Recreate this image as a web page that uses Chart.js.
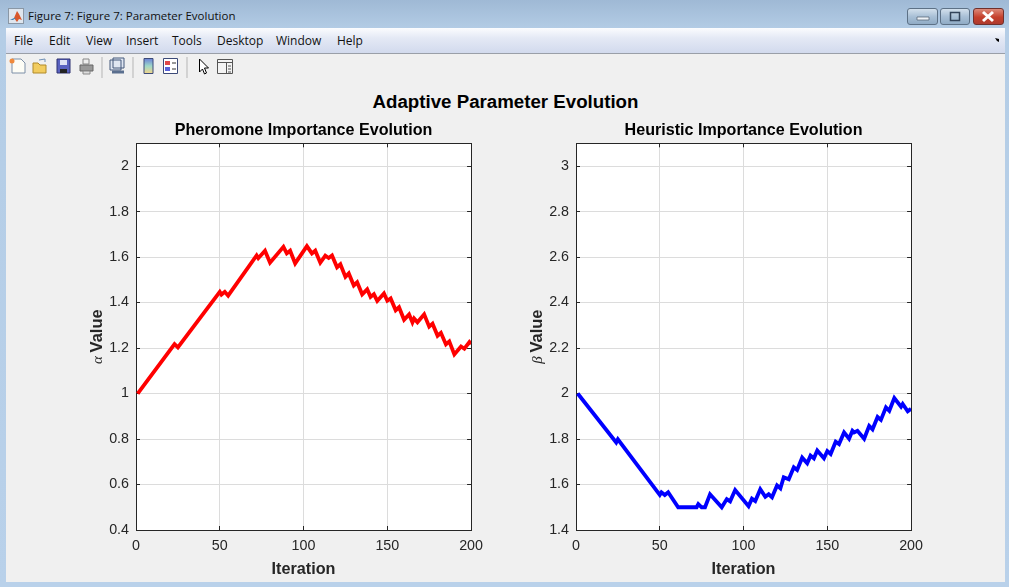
<!DOCTYPE html>
<html>
<head>
<meta charset="utf-8">
<title>Parameter Evolution</title>
<script src="https://cdn.jsdelivr.net/npm/chart.js@4"></script>
<style>
  html, body { margin: 0; padding: 0; }
  body { width: 1009px; height: 588px; position: relative; overflow: hidden; background: #fff; font-family: "Open Sans", sans-serif; }
  #frame { position: absolute; left: 0; top: 0; width: 1009px; height: 587px; background: linear-gradient(#9fb9d5, #b4cde6 30px, #b9d1ea); }
  #titlebar { position: absolute; left: 28px; top: 8px; font-size: 11.5px; line-height: 16px; color: #111; white-space: nowrap; }
  #appicon { position: absolute; left: 8px; top: 8px; width: 16px; height: 16px; background: #dfe6ee; border: 1px solid #8a97a5; box-sizing: border-box; }
  .winbtn { position: absolute; top: 8px; height: 17px; box-sizing: border-box; border: 1px solid #5d7186; border-radius: 3px; background: linear-gradient(#d3e0ec, #a9c0d6 50%, #90abc5); }
  #btnclose { background: linear-gradient(#dc8a7a, #c5402c 55%, #ad3a2e); border-color: #70302c; }
  #menubar { position: absolute; left: 6px; top: 28px; width: 999px; height: 25px; background: linear-gradient(#fbfcfe, #e4e9f5 40%, #d2daed); border-bottom: 1px solid #9a9fa8; }
  #menubar span { position: absolute; top: 5px; font-size: 12px; line-height: 16px; color: #111; }
  #figure { position: absolute; left: 6px; top: 54px; width: 999px; height: 528px; background: #f0f0f0; }
  #icons { position: absolute; left: 0; top: 0; }
  #suptitle { position: absolute; left: 0; width: 1011px; top: 91px; text-align: center; font: bold 18.7px "Liberation Sans", sans-serif; line-height: 22px; color: #000; }
  canvas { position: absolute; }
</style>
</head>
<body>
<div id="frame"></div>
<div id="appicon"></div>
<div id="titlebar">Figure 7: Figure 7: Parameter Evolution</div>
<div class="winbtn" style="left:907px;width:31px"></div>
<div class="winbtn" style="left:940px;width:30px"></div>
<div class="winbtn" id="btnclose" style="left:973px;width:31px"></div>
<div id="menubar">
  <span style="left:8px">File</span><span style="left:43px">Edit</span><span style="left:80px">View</span>
  <span style="left:120px">Insert</span><span style="left:166px">Tools</span><span style="left:211px">Desktop</span>
  <span style="left:270px">Window</span><span style="left:331px">Help</span>
</div>
<div id="figure"></div>
<svg id="icons" width="1009" height="120">
  <path d="M10 20l4-2 3-7 2 3 3 6-3-1-2 3-3-4z" fill="#d8562a"/><path d="M10 20l4-2 2 0-3 2z" fill="#3f7fb5"/>
  <path d="M12 59h9l4 4v10H12z" fill="#fdfdf6" stroke="#7d8fa8"/><circle cx="12" cy="61" r="2.5" fill="#f08a3c"/>
  <path d="M33 63h5l2 2h6v8H33z" fill="#f2cc5e" stroke="#b08a2a"/><path d="M39 60l6-1v3" fill="none" stroke="#6f8fb5"/>
  <path d="M57 59h13v14H57z" fill="#5a62c0" stroke="#2c3070"/><path d="M60 60h7v5h-7z" fill="#dfe2f4"/><path d="M60 69h7v4h-7z" fill="#222"/>
  <path d="M83 59h6v5h-6z" fill="#eee" stroke="#888"/><path d="M80 65h13v6H80z" fill="#999" stroke="#666"/><path d="M83 71h7v3h-7z" fill="#ddd" stroke="#888"/>
  <path d="M102 57v21M133 57v21M187 57v21" stroke="#b5b5b5"/>
  <path d="M110 60h11v10h-11zM113 58h11v10h-11z" fill="#dfe6f2" stroke="#44597a"/><path d="M112 72h12" stroke="#5a6f8f" stroke-width="3"/>
  <defs><linearGradient id="cb" x1="0" y1="0" x2="0" y2="1"><stop offset="0" stop-color="#6b80d8"/><stop offset=".5" stop-color="#9ed8c8"/><stop offset="1" stop-color="#f4d58a"/></linearGradient></defs>
  <path d="M144 58.500h9v15h-9z" fill="url(#cb)" stroke="#3c4a78"/>
  <path d="M163.500 58.500h14v15h-14z" fill="#fff" stroke="#3c4a78"/><path d="M165 61h5v4h-5z" fill="#e04848"/><path d="M165 67h5v4h-5z" fill="#5a62d8"/><path d="M172 63h4M172 69h4" stroke="#333"/>
  <path d="M199.500 59v13l3-3 2 5 2-1-2-5h4z" fill="#fff" stroke="#000"/>
  <path d="M217.500 59.500h15v14h-15z" fill="#f4f4f4" stroke="#555"/><path d="M217.500 62.500h15M226.500 62.500v11" stroke="#555"/><path d="M228 66h3M228 69h3M228 72h3" stroke="#555"/>
  <path d="M995 38l4 1v3l-2-1z" fill="#000"/>
  <path d="M917 17h12v3h-12z" fill="#eef3f8" stroke="#4a5a6c" stroke-width=".7"/>
  <path d="M950.500 12.500h9v8h-9z" fill="none" stroke="#33445a" stroke-width="1.500"/>
  <path d="M983 12l10 9M993 12l-10 9" stroke="#fff" stroke-width="3"/>
</svg>
<div id="suptitle">Adaptive Parameter Evolution</div>
<canvas id="alphaChart" width="424" height="462" style="left:70px;top:118px"></canvas>
<canvas id="betaChart" width="424" height="462" style="left:510px;top:118px"></canvas>
<script>
const alphaIter = [1, 23, 25, 50, 51, 53, 55, 72, 73, 77, 80, 88, 90, 92, 95, 102, 105, 107, 110, 113, 115, 117, 120, 122, 125, 127, 130, 132, 135, 138, 140, 142, 144, 148, 150, 152, 155, 157, 160, 163, 165, 166, 168, 172, 175, 177, 180, 182, 185, 187, 190, 194, 196, 199, 200]
const alphaValues = [1, 1.217, 1.203, 1.447, 1.435, 1.447, 1.43, 1.607, 1.595, 1.628, 1.575, 1.645, 1.616, 1.628, 1.572, 1.648, 1.616, 1.628, 1.575, 1.606, 1.596, 1.607, 1.555, 1.568, 1.513, 1.528, 1.475, 1.489, 1.436, 1.458, 1.425, 1.437, 1.407, 1.44, 1.408, 1.418, 1.366, 1.379, 1.324, 1.348, 1.313, 1.33, 1.313, 1.348, 1.294, 1.307, 1.254, 1.267, 1.216, 1.229, 1.172, 1.207, 1.197, 1.226, 1.217]
const betaIter = [1, 24, 25, 50, 51, 53, 55, 61, 72, 73, 75, 77, 80, 87, 90, 92, 95, 103, 105, 107, 110, 113, 115, 117, 120, 122, 124, 127, 130, 132, 135, 138, 140, 142, 144, 148, 150, 152, 155, 157, 160, 163, 165, 166, 168, 172, 175, 177, 180, 182, 185, 187, 190, 194, 195, 198, 200]
const betaValues = [2, 1.785, 1.799, 1.554, 1.566, 1.554, 1.566, 1.5, 1.5, 1.514, 1.5, 1.5, 1.557, 1.5, 1.536, 1.526, 1.576, 1.505, 1.538, 1.527, 1.579, 1.546, 1.557, 1.544, 1.596, 1.583, 1.632, 1.623, 1.676, 1.664, 1.718, 1.693, 1.727, 1.715, 1.749, 1.715, 1.747, 1.734, 1.788, 1.778, 1.829, 1.801, 1.836, 1.829, 1.836, 1.801, 1.858, 1.843, 1.897, 1.884, 1.939, 1.924, 1.98, 1.942, 1.954, 1.922, 1.933]
const xTicks = [0, 50, 100, 150, 200]
const alphaTicks = [0.4, 0.6, 0.8, 1, 1.2, 1.4, 1.6, 1.8, 2]
const betaTicks = [1.4, 1.6, 1.8, 2, 2.2, 2.4, 2.6, 2.8, 3]

const inkColor = "#262626"
const gridColor = "#dcdcdc"
const tickFont = { family: "'Liberation Sans', sans-serif", size: 14.3 }

// matlab style: ticks point inwards, so tickLength is negative
function axisStyle(ticks, extra) {
  return Object.assign({
    type: "linear",
    afterBuildTicks: scale => { scale.ticks = ticks.map(v => ({ value: v })) },
    grid: { color: gridColor, tickColor: inkColor, tickLength: -4, lineWidth: 1 },
    border: { color: inkColor, width: 1 },
  }, extra)
}

const plotBgPlugin = {
  id: "plotBg",
  beforeDraw(chart) {
    const a = chart.chartArea
    chart.ctx.fillStyle = "#fff"
    chart.ctx.fillRect(a.left, a.top, a.right - a.left, a.bottom - a.top)
  },
}

// alpha/beta is set in a lighter serif, so the y label can't be a plain axis title
const yLabelPlugin = {
  id: "yLabel",
  afterDraw(chart, args, opts) {
    const ctx = chart.ctx
    const cy = (chart.chartArea.top + chart.chartArea.bottom) / 2
    ctx.save()
    ctx.translate(opts.x, cy)
    ctx.rotate(-Math.PI / 2)
    ctx.fillStyle = inkColor
    ctx.textBaseline = "alphabetic"
    ctx.font = "italic 15px 'Liberation Serif', serif"
    const w1 = ctx.measureText(opts.symbol + " ").width
    ctx.font = "bold 16.5px 'Liberation Sans', sans-serif"
    const w2 = ctx.measureText("Value").width
    const start = -(w1 + w2) / 2
    ctx.fillText("Value", start + w1, 0)
    ctx.font = "italic 15px 'Liberation Serif', serif"
    ctx.fillText(opts.symbol, start, 0)
    ctx.restore()
  },
}

function makeChart(id, title, symbol, iters, values, color, yMin, yMax, yTicks) {
  new Chart(document.getElementById(id), {
    type: "line",
    data: {
      datasets: [{
        data: iters.map((x, i) => ({ x: x, y: values[i] })),
        borderColor: color,
        borderWidth: 3.8,
        pointRadius: 0,
        tension: 0,
        fill: false,
      }],
    },
    plugins: [plotBgPlugin, yLabelPlugin],
    options: {
      responsive: false,
      animation: false,
      layout: { autoPadding: false, padding: { left: 0, right: 19, top: 0, bottom: 0 } },
      plugins: {
        legend: { display: false },
        tooltip: { enabled: false },
        title: {
          display: true,
          text: title,
          fullSize: false,
          color: "#000",
          font: { family: "'Liberation Sans', sans-serif", size: 16.1, weight: "bold" },
          padding: { top: 3, bottom: 3 },
        },
        yLabel: { symbol: symbol, x: 32 },
      },
      scales: {
        x: axisStyle(xTicks, {
          min: 0, max: 200,
          ticks: { color: inkColor, font: tickFont, padding: 11, maxRotation: 0, autoSkip: false },
          title: {
            display: true, text: "Iteration", color: inkColor,
            font: { family: "'Liberation Sans', sans-serif", size: 16.2, weight: "bold" },
            padding: { top: 4, bottom: 1 },
          },
          afterFit: s => { s.height = 50 },
        }),
        y: axisStyle(yTicks, {
          min: yMin, max: yMax,
          ticks: { color: inkColor, font: tickFont, padding: 11, autoSkip: false, callback: v => String(v) },
          afterFit: s => { s.width = 66 },
        }),
        xTop: axisStyle(xTicks, {
          position: "top", min: 0, max: 200,
          ticks: { display: false },
          grid: { drawOnChartArea: false, tickColor: inkColor, tickLength: -4 },
          afterFit: s => { s.height = 0 },
        }),
        yRight: axisStyle(yTicks, {
          position: "right", min: yMin, max: yMax,
          ticks: { display: false },
          grid: { drawOnChartArea: false, tickColor: inkColor, tickLength: -4 },
          afterFit: s => { s.width = 0 },
        }),
      },
    },
  })
}

makeChart("alphaChart", "Pheromone Importance Evolution", "\u03b1", alphaIter, alphaValues, "#ff0000", 0.4, 2.1, alphaTicks)
makeChart("betaChart", "Heuristic Importance Evolution", "\u03b2", betaIter, betaValues, "#0000ff", 1.4, 3.1, betaTicks)
</script>
</body>
</html>
